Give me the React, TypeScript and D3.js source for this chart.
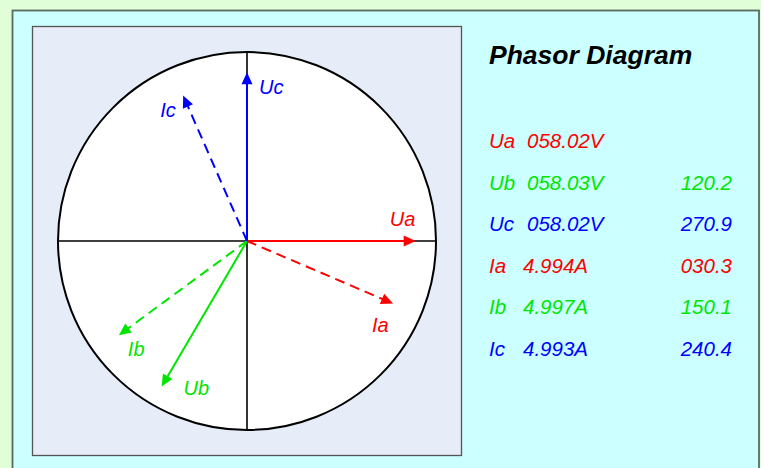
import React from 'react';
import * as d3 from 'd3';

// phasor readings (table text)
const names = ['Ua', 'Ub', 'Uc', 'Ia', 'Ib', 'Ic'];
const magnitudes = ['058.02V', '058.03V', '058.02V', '4.994A', '4.997A', '4.993A'];
const angleLabels = ['', '120.2', '270.9', '030.3', '150.1', '240.4'];

// drawn vectors
const voltageNames = ['Ua', 'Ub', 'Uc'];
const voltageValues = [58.02, 58.03, 58.02];
const voltageAngles = [0, 120.4, 270];
const currentNames = ['Ia', 'Ib', 'Ic'];
const currentValues = [4.994, 4.997, 4.993];
const currentAngles = [23.2, 143.7, 246.3];

const colors: Record<string, string> = {
  Ua: '#ff0000', Ub: '#00e600', Uc: '#0000ff',
  Ia: '#ff0000', Ib: '#00e600', Ic: '#0000ff',
};

// label offsets from arrow tip
const labelOffset: Record<string, [number, number]> = {
  Ua: [-26, -15], Ub: [22, 8], Uc: [12, 22],
  Ia: [-21, 28], Ib: [9, 21], Ic: [-23, 21],
};

const W = 761;
const H = 468;
const cx = 247;
const cy = 241;
const R = 189;
const font = '"Liberation Sans", Arial, sans-serif';

const vScale = d3.scaleLinear().domain([0, 65]).range([0, R]);
const iScale = d3.scaleLinear().domain([0, 5.94]).range([0, R]);
const rowY = d3.scaleLinear().domain([0, 5]).range([148, 356]);

function Arrow({ name, len, deg, dashed }: { name: string; len: number; deg: number; dashed: boolean }) {
  const a = (deg * Math.PI) / 180;
  const ux = Math.cos(a), uy = Math.sin(a);
  const tx = cx + len * ux, ty = cy + len * uy;
  const head = 12, hw = 5.5;
  const bx = tx - head * ux, by = ty - head * uy;
  const pts = [
    [tx, ty],
    [bx - hw * uy, by + hw * ux],
    [bx + hw * uy, by - hw * ux],
  ];
  const c = colors[name];
  const [ox, oy] = labelOffset[name];
  return (
    <g>
      <line x1={cx} y1={cy} x2={bx + ux * 2} y2={by + uy * 2} stroke={c} strokeWidth={2}
        strokeDasharray={dashed ? '10,6' : undefined} />
      <polygon points={pts.map((p) => p.join(',')).join(' ')} fill={c} />
      <text x={tx + ox} y={ty + oy} fill={c} fontSize={20} fontStyle="italic" fontFamily={font}>{name}</text>
    </g>
  );
}

export default function App() {
  return (
    <svg width={W} height={H} style={{ position: 'absolute', left: 0, top: 0 }}>
      <rect x={0} y={0} width={W} height={H} fill="#e0ffd8" />
      <rect x={12.5} y={10.5} width={746.5} height={H} fill="#ccffff" stroke="#5a6a60" strokeWidth={1.8} />
      <rect x={32.5} y={26.5} width={429} height={429} fill="#e6ecf8" stroke="#555" strokeWidth={1.3} />
      <circle cx={cx} cy={cy} r={R} fill="#fff" stroke="#000" strokeWidth={2} />
      <line x1={cx - R} y1={cy} x2={cx + R} y2={cy} stroke="#000" strokeWidth={1.6} />
      <line x1={cx} y1={cy - R} x2={cx} y2={cy + R} stroke="#000" strokeWidth={1.6} />

      {voltageNames.map((n, i) => (
        <Arrow key={n} name={n} len={vScale(voltageValues[i])} deg={voltageAngles[i]} dashed={false} />
      ))}
      {currentNames.map((n, i) => (
        <Arrow key={n} name={n} len={iScale(currentValues[i])} deg={currentAngles[i]} dashed={true} />
      ))}

      <text x={489} y={64} fontSize={26.5} fontWeight="bold" fontStyle="italic" fontFamily={font} fill="#000">
        Phasor Diagram
      </text>

      {names.map((n, i) => (
        <g key={n} fill={colors[n]} fontSize={20.5} fontStyle="italic" fontFamily={font}>
          <text x={489} y={rowY(i)}>{n}</text>
          <text x={n.startsWith('U') ? 527 : 523} y={rowY(i)}>{magnitudes[i]}</text>
          <text x={732} y={rowY(i)} textAnchor="end">{angleLabels[i]}</text>
        </g>
      ))}
    </svg>
  );
}
